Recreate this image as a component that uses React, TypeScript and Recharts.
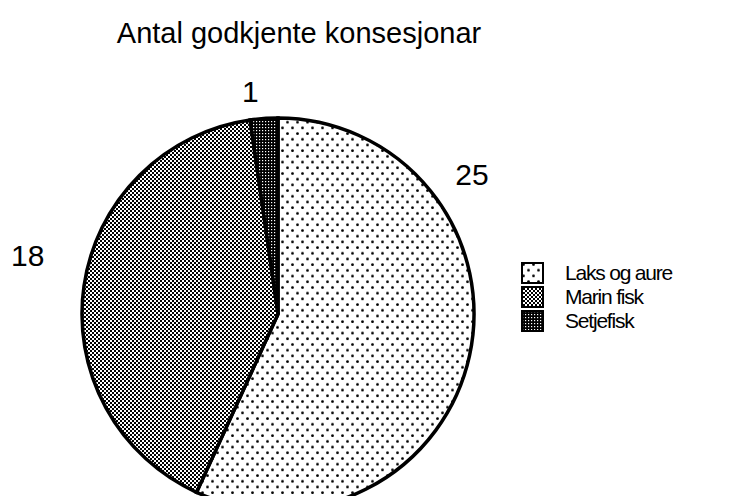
import React, { ReactElement } from 'react';
import { PieChart, Pie, Cell, Legend } from 'recharts';

const CATEGORIES = ['Laks og aure', 'Marin fisk', 'Setjefisk'];
const COUNTS = [25, 18, 1];
const TITLE = 'Antal godkjente konsesjonar';

const FILLS = ['url(#dotsSparse)', 'url(#checkLight)', 'url(#checkDark)'];
// nudge labels away from the slice middle, as in the printed figure
const LABEL_SHIFT = [
  { angle: 48, radius: 43 },
  { angle: -5, radius: 61 },
  { angle: 3, radius: 28 },
];

const data = CATEGORIES.map((name, i) => ({ name, value: COUNTS[i] }));

const FONT = '"Liberation Sans", Arial, Helvetica, sans-serif';
const RADIAN = Math.PI / 180;

const renderLabel = ({
  cx, cy, midAngle, outerRadius, value, index,
// eslint-disable-next-line @typescript-eslint/no-explicit-any
}: any) => {
  const shift = LABEL_SHIFT[index];
  const r = outerRadius + shift.radius;
  const a = (midAngle + shift.angle) * RADIAN;
  const x = cx + r * Math.cos(a);
  const y = cy - r * Math.sin(a);
  return (
    <text
      x={x}
      y={y}
      fill="#000"
      textAnchor="middle"
      dominantBaseline="central"
      fontSize={30}
      fontFamily={FONT}
    >
      {value}
    </text>
  );
};

const renderLegend = () => (
  <div style={{ fontFamily: FONT, fontSize: 21, color: '#000' }}>
    {CATEGORIES.map((name, i) => (
      <div key={name} style={{ display: 'flex', alignItems: 'center', height: 24 }}>
        <svg width={24} height={22} style={{ marginRight: 20 }}>
          <rect x={1} y={1} width={21} height={20} fill={FILLS[i]} stroke="#000" strokeWidth={2} />
        </svg>
        <span style={{ letterSpacing: -1.2 }}>{name}</span>
      </div>
    ))}
  </div>
);

function App(): ReactElement {
  return (
    <div style={{ position: 'relative', width: 732, height: 504, margin: -8, background: '#fff' }}>
      <div
        style={{
          position: 'absolute',
          left: 0,
          width: 598,
          top: 17,
          textAlign: 'center',
          fontFamily: FONT,
          fontSize: 29,
          color: '#000',
        }}
      >
        {TITLE}
      </div>
      <PieChart width={732} height={504} margin={{ top: 0, right: 0, bottom: 0, left: 0 }}>
        <defs>
          <pattern id="dotsSparse" width={10} height={11.4} patternUnits="userSpaceOnUse">
            <rect width={10} height={11.4} fill="#fff" />
            <circle cx={2.5} cy={2.5} r={1.4} fill="#000" />
            <circle cx={7.5} cy={8.2} r={1.4} fill="#000" />
          </pattern>
          <pattern id="checkLight" width={4} height={4} patternUnits="userSpaceOnUse">
            <rect width={4} height={4} fill="#fff" />
            <rect x={0} y={0} width={2} height={2} fill="#000" />
            <rect x={2} y={2} width={2} height={2} fill="#000" />
          </pattern>
          <pattern id="checkDark" width={3} height={3} patternUnits="userSpaceOnUse">
            <rect width={3} height={3} fill="#000" />
            <rect x={1} y={1} width={1.2} height={1.2} fill="#fff" />
          </pattern>
        </defs>
        <Pie
          data={data}
          dataKey="value"
          nameKey="name"
          cx={278}
          cy={314}
          outerRadius={196}
          startAngle={90}
          endAngle={-270}
          stroke="#000"
          strokeWidth={3.5}
          label={renderLabel}
          labelLine={false}
          isAnimationActive={false}
        >
          {data.map((entry, index) => (
            <Cell key={`cell-${entry.name}`} fill={FILLS[index]} />
          ))}
        </Pie>
        <Legend
          content={renderLegend}
          layout="vertical"
          wrapperStyle={{ position: 'absolute', left: 521, top: 261, width: 200 }}
        />
      </PieChart>
    </div>
  );
}

export default App;
